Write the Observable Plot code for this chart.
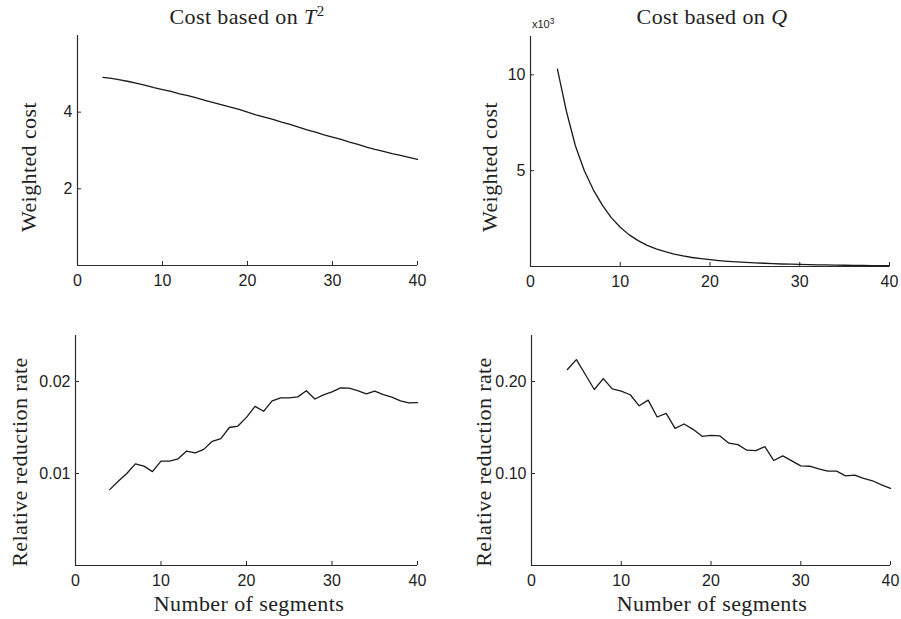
<!DOCTYPE html>
<html><head><meta charset="utf-8">
<script src="https://cdn.jsdelivr.net/npm/d3@7"></script>
<script src="https://cdn.jsdelivr.net/npm/@observablehq/plot@0.6"></script>
<style>
body{margin:0;background:#fff;}
#wrap{position:relative;width:901px;height:619px;overflow:hidden;background:#fff;}
.panel{position:absolute;}
.lab{position:absolute;font-family:"Liberation Serif","Times New Roman",serif;font-size:22px;letter-spacing:0.4px;color:#222;white-space:nowrap;line-height:1;transform:translate(-50%,-50%);}
.ylab{transform:translate(-50%,-50%) rotate(-90deg);}
.lab sup{font-size:0.68em;line-height:0;vertical-align:0.55em;}
.mult{position:absolute;font-family:"Liberation Sans",Arial,sans-serif;font-size:11px;color:#222;line-height:1;white-space:nowrap;}
.mult sup{font-size:0.75em;line-height:0;vertical-align:0.5em;}
</style></head>
<body><div id="wrap"></div>
<script>
// ---- data ----
const segmentsCost = [3,4,5,6,7,8,9,10,11,12,13,14,15,16,17,18,19,20,21,22,23,24,25,26,27,28,29,30,31,32,33,34,35,36,37,38,39,40];
const costT2 = [4.91,4.88,4.84,4.80,4.75,4.70,4.64,4.59,4.54,4.48,4.43,4.37,4.31,4.25,4.19,4.13,4.07,4.00,3.93,3.87,3.81,3.74,3.68,3.61,3.54,3.48,3.41,3.35,3.29,3.22,3.16,3.09,3.03,2.98,2.92,2.87,2.82,2.77];
// thousands (x10^3)
const costQ = [10.3,8.1,6.3,5.0,4.0,3.2,2.55,2.05,1.65,1.35,1.1,0.92,0.77,0.65,0.55,0.47,0.41,0.36,0.31,0.27,0.24,0.21,0.19,0.17,0.15,0.13,0.12,0.11,0.10,0.09,0.08,0.07,0.065,0.06,0.055,0.05,0.045,0.04];
const segmentsRate = [4,5,6,7,8,9,10,11,12,13,14,15,16,17,18,19,20,21,22,23,24,25,26,27,28,29,30,31,32,33,34,35,36,37,38,39,40];
const rateT2 = [0.00825,0.00916,0.0100,0.01105,0.0108,0.0102,0.01135,0.01135,0.0116,0.01244,0.01225,0.01262,0.0135,0.0138,0.0150,0.01516,0.0161,0.0173,0.01676,0.0179,0.01822,0.01822,0.01833,0.0190,0.0181,0.01855,0.01887,0.0193,0.01927,0.0190,0.01865,0.01895,0.01858,0.0183,0.0179,0.01767,0.0177];
const rateQ = [0.213,0.2238,0.2076,0.1913,0.2032,0.192,0.1895,0.1856,0.1736,0.1798,0.1614,0.1653,0.1491,0.1538,0.148,0.1404,0.1415,0.1408,0.1329,0.1314,0.1253,0.1249,0.1292,0.1141,0.1191,0.1137,0.1083,0.1079,0.105,0.1025,0.1025,0.0975,0.0982,0.0946,0.0921,0.0877,0.0838];
const xTicks = [0,10,20,30,40];
const yTicksT2 = [2,4];
const yTicksQ = [5,10];
const yTicksRateT2 = [0.01,0.02];
const yTicksRateQ = [0.10,0.20];

const wrap = document.getElementById("wrap");
const axisColor = "#2b2b2b";
const tickFont = '"Liberation Sans", Arial, sans-serif';

function panel(o){
  const data = o.xs.map((x,i)=>({x, y:o.ys[i]}));
  const p = Plot.plot({
    width:o.width, height:o.height,
    marginLeft:o.ml, marginRight:o.mr, marginTop:o.mt, marginBottom:o.mb,
    style:{fontFamily:tickFont, fontSize:"16px", color:"#222", background:"transparent", overflow:"visible"},
    x:{domain:[0,40]},
    y:{domain:o.yDomain},
    marks:[
      Plot.axisX({ticks:xTicks, tickSize:-4, tickPadding:13, label:null, stroke:axisColor, fill:"#222", fontSize:16, fontFamily:tickFont, tickFormat:d=>String(d)}),
      Plot.axisY({ticks:o.yTicks, tickSize:-4, tickPadding:9, label:null, stroke:axisColor, fill:"#222", fontSize:16, fontFamily:tickFont, tickFormat:o.fmt}),
      Plot.ruleX([0], {stroke:axisColor, strokeWidth:1.2}),
      Plot.ruleY([0], {stroke:axisColor, strokeWidth:1.2}),
      Plot.line(data, {x:"x", y:"y", stroke:"#1a1a1a", strokeWidth:1.3})
    ]
  });
  const d = document.createElement("div");
  d.className = "panel";
  d.style.left = o.left+"px"; d.style.top = o.top+"px";
  d.appendChild(p);
  wrap.appendChild(d);
}

panel({left:0, top:0, width:450, height:300, ml:77, mr:33, mt:35, mb:35, xs:segmentsCost, ys:costT2, yDomain:[0,6], yTicks:yTicksT2, fmt:d3.format("d")});
panel({left:450, top:0, width:451, height:300, ml:80, mr:12, mt:36, mb:34, xs:segmentsCost, ys:costQ, yDomain:[0,12], yTicks:yTicksQ, fmt:d3.format("d")});
panel({left:0, top:300, width:450, height:319, ml:75, mr:33, mt:35, mb:54, xs:segmentsRate, ys:rateT2, yDomain:[0,0.025], yTicks:yTicksRateT2, fmt:d3.format(".2f")});
panel({left:450, top:300, width:451, height:319, ml:81, mr:11, mt:35, mb:54, xs:segmentsRate, ys:rateQ, yDomain:[0,0.25], yTicks:yTicksRateQ, fmt:d3.format(".2f")});

function label(html, x, y, cls){
  const d = document.createElement("div");
  d.className = cls;
  d.innerHTML = html;
  d.style.left = x+"px"; d.style.top = y+"px";
  wrap.appendChild(d);
}
label("Cost based on <i>T</i><sup>2</sup>", 247, 17, "lab");
label("Cost based on <i>Q</i>", 712, 17, "lab");
label("x10<sup>3</sup>", 532, 19, "mult");
label("Weighted cost", 29, 167, "lab ylab");
label("Weighted cost", 490, 167, "lab ylab");
label("Relative reduction rate", 20, 462, "lab ylab");
label("Relative reduction rate", 484, 462, "lab ylab");
label("Number of segments", 249, 604, "lab");
label("Number of segments", 712, 604, "lab");
</script>
</body></html>
